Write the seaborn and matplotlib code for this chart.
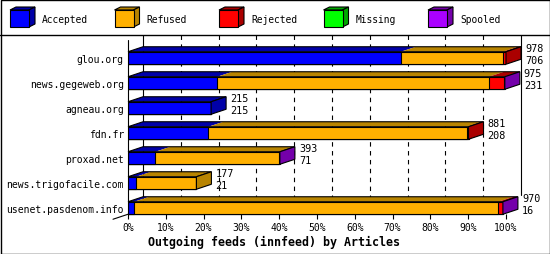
import matplotlib
matplotlib.use("Agg")
import matplotlib.pyplot as plt
from matplotlib.patches import Polygon, Rectangle
from matplotlib.lines import Line2D
import numpy as np
import pandas as pd
import seaborn as sns

# ---------------- data ----------------
hosts = ["glou.org", "news.gegeweb.org", "agneau.org", "fdn.fr",
         "proxad.net", "news.trigofacile.com", "usenet.pasdenom.info"]
accepted = [706, 231, 215, 208, 71, 21, 16]
refused = [264, 703, 0, 668, 319, 156, 942]
rejected = [8, 38, 0, 5, 0, 0, 11]
missing = [0, 0, 0, 0, 0, 0, 0]
spooled = [0, 3, 0, 0, 3, 0, 1]
series_names = ["Accepted", "Refused", "Rejected", "Missing", "Spooled"]
front_colors = ["#0000FF", "#FFB000", "#FF0000", "#00FF00", "#AA00FF"]
dark_colors = ["#0000A8", "#B88400", "#AA0000", "#00A800", "#7400AA"]
tick_values = [0, 10, 20, 30, 40, 50, 60, 70, 80, 90, 100]
title = "Outgoing feeds (innfeed) by Articles"

# ---------------- setup ----------------
sns.set_theme(style="white")
plt.rcParams["font.family"] = ["DejaVu Sans Mono", "DejaVu Sans"]

W, H = 550, 255
fig = plt.figure(figsize=(W / 100, H / 100), dpi=100)
fig.patch.set_facecolor("white")

ax_left, ax_right, ax_top, ax_bottom = 128, 506, 36, 220
ax = fig.add_axes([ax_left / W, 1 - ax_bottom / H, (ax_right - ax_left) / W, (ax_bottom - ax_top) / H])
ax.set_facecolor("none")

series = [accepted, refused, rejected, missing, spooled]
totals = np.sum(np.array(series), axis=0)
scale = 100.0 / totals.max()
pct = [np.array(s) * scale for s in series]
cum = np.cumsum(np.array(pct), axis=0)

row_px = 25.0
bar_h = 0.5
first_center_px = 59
ylim_top = -(first_center_px - ax_top) / row_px
ylim_bot = len(hosts) - 1 + (ax_bottom - (first_center_px + row_px * (len(hosts) - 1))) / row_px
px_per_pct = (ax_right - ax_left) / 100.0
dx = 15 / px_per_pct      # depth in data units (x)
dy = 5 / row_px           # depth in data units (y)

df = pd.DataFrame({"host": hosts})
for k, name in enumerate(series_names):
    df["cum_" + name] = cum[k]

# front faces: stacked via cumulative overlays (largest first)
for k in range(len(series_names) - 1, -1, -1):
    if np.all(np.array(series[k]) == 0):
        continue
    sns.barplot(data=df, x="cum_" + series_names[k], y="host", order=hosts,
                orient="h", color=front_colors[k], saturation=1,
                edgecolor="black", linewidth=0.8, width=bar_h, ax=ax, zorder=3)

ax.set_xlim(0, 100)
ax.set_ylim(ylim_bot, ylim_top)
ax.set_xlabel("")
ax.set_ylabel("")
for s in ax.spines.values():
    s.set_visible(False)

# back wall grid
back_floor = len(hosts) - 1 + bar_h / 2 - dy
for p in tick_values:
    if p == 0:
        ax.plot([p + dx, p + dx], [ylim_top, back_floor], color="black", lw=0.8, zorder=1, clip_on=False)
    elif p == 100:
        ax.plot([p + dx, p + dx], [ylim_top, back_floor - 0.56], color="black", lw=0.8, zorder=1, clip_on=False)
    else:
        ax.plot([p + dx, p + dx], [ylim_top, back_floor], color="black", lw=0.8,
                ls=(0, (4, 4)), zorder=1, clip_on=False)
# front left axis and floor edge
front_floor = len(hosts) - 1 + bar_h / 2
ax.plot([0, 0], [ylim_top + dy, front_floor], color="black", lw=0.8, zorder=4, clip_on=False)
ax.plot([-dx, 0], [front_floor + dy, front_floor], color="black", lw=0.8, zorder=4, clip_on=False)

# 3D top and side faces
for i, h in enumerate(hosts):
    yt = i - bar_h / 2
    yb = i + bar_h / 2
    x0 = 0.0
    last = 0
    for k in range(len(series_names)):
        x1 = cum[k][i]
        if series[k][i] > 0:
            ax.add_patch(Polygon([(x0, yt), (x1, yt), (x1 + dx, yt - dy), (x0 + dx, yt - dy)],
                                 closed=True, facecolor=dark_colors[k], edgecolor="none",
                                 zorder=3, clip_on=False))
            last = k
        x0 = x1
    T = cum[-1][i]
    ax.add_patch(Polygon([(0, yt), (T, yt), (T + dx, yt - dy), (dx, yt - dy)], closed=True,
                         fill=False, edgecolor="black", lw=0.8, zorder=4, clip_on=False))
    ax.add_patch(Polygon([(T, yt), (T + dx, yt - dy), (T + dx, yb - dy), (T, yb)], closed=True,
                         facecolor=dark_colors[last], edgecolor="black", lw=0.8, zorder=4, clip_on=False))
    # value labels: total and accepted
    tx = T + dx + 4 / px_per_pct
    ax.text(tx, yt - 4 / row_px, str(totals[i]), fontsize=7.3, va="center", ha="left",
            color="black", zorder=5, clip_on=False)
    ax.text(tx, yt + 8 / row_px, str(accepted[i]), fontsize=7.3, va="center", ha="left",
            color="black", zorder=5, clip_on=False)

# ticks
ax.set_xticks(tick_values)
ax.set_xticklabels([f"{p}%" for p in tick_values], fontsize=7.0)
ax.tick_params(axis="x", direction="in", length=3.6, width=0.8, pad=2.5, color="black",
               bottom=True, labelcolor="black")
ax.tick_params(axis="y", length=0, pad=3, labelsize=7.0, labelcolor="black")

# title
fig.text(274 / W, 1 - 242 / H, title, ha="center", va="center", fontsize=8.4,
         fontweight="bold", color="black")

# legend cubes
leg_x = [10, 114.5, 219, 323.5, 428]
for k, name in enumerate(series_names):
    x, y0, w, hh, ddx, ddy = leg_x[k], 11, 19, 17, 6, 3
    def P(px, py):
        return (px / W, 1 - py / H)
    fig.patches.append(Polygon([P(x, y0), P(x + w, y0), P(x + w + ddx, y0 - ddy), P(x + ddx, y0 - ddy)],
                               closed=True, facecolor=dark_colors[k], edgecolor="black", lw=0.8,
                               transform=fig.transFigure, figure=fig))
    fig.patches.append(Polygon([P(x + w, y0), P(x + w + ddx, y0 - ddy), P(x + w + ddx, y0 + hh - ddy), P(x + w, y0 + hh)],
                               closed=True, facecolor=dark_colors[k], edgecolor="black", lw=0.8,
                               transform=fig.transFigure, figure=fig))
    fig.patches.append(Rectangle(P(x, y0 + hh), w / W, hh / H, facecolor=front_colors[k],
                                 edgecolor="black", lw=0.8, transform=fig.transFigure, figure=fig))
    fig.text((x + 32) / W, 1 - 20 / H, name, ha="left", va="center", fontsize=6.9, color="black")

# separator and border
fig.add_artist(Line2D([0, 1], [1 - 35.5 / H, 1 - 35.5 / H], color="black", lw=1, transform=fig.transFigure))
fig.patches.append(Rectangle((0.5 / W, 0.5 / H), 549 / W, 254 / H, fill=False, edgecolor="black",
                             lw=1, transform=fig.transFigure, figure=fig))

fig.savefig("out.png", dpi=100)
